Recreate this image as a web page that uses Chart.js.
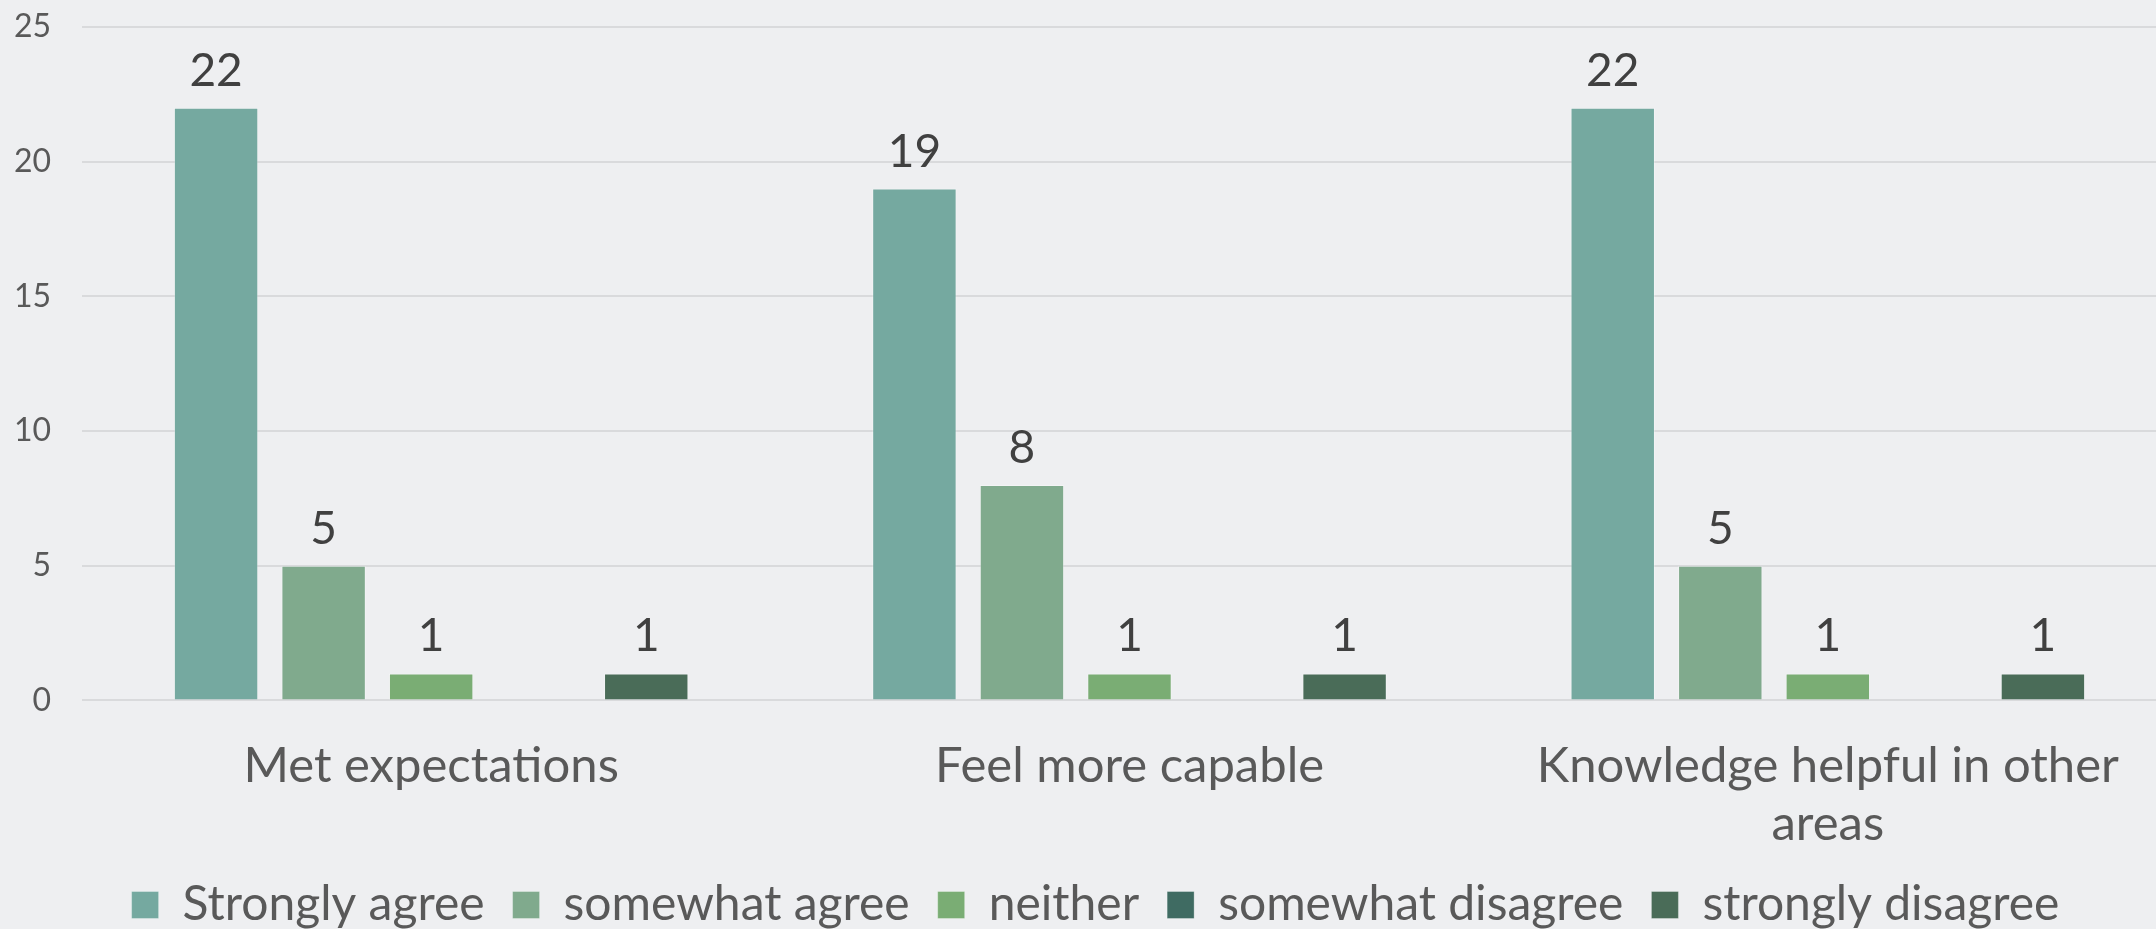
<!DOCTYPE html>
<html>
<head>
<meta charset="utf-8">
<script src="https://cdn.jsdelivr.net/npm/chart.js@4"></script>
<style>
  html, body { margin: 0; padding: 0; background: #eeeff1; overflow: hidden; }
  #wrap { width: 2220px; height: 929px; }
</style>
</head>
<body>
<div id="wrap"><canvas id="chart" width="2220" height="929"></canvas></div>
<script>
// Categories and series
const categories = ['Met expectations', 'Feel more capable', ['Knowledge helpful in other', 'areas']];
const stronglyAgree = [22, 19, 22];
const somewhatAgree = [5, 8, 5];
const neither = [1, 1, 1];
const somewhatDisagree = [null, null, null];
const stronglyDisagree = [1, 1, 1];
const yTicks = [0, 5, 10, 15, 20, 25];

const FONT = 'Lato, "Open Sans", sans-serif';

// Draw the value above each bar
const valueLabels = {
  id: 'valueLabels',
  afterDatasetsDraw(chart) {
    const ctx = chart.ctx;
    ctx.save();
    ctx.font = '46px ' + FONT;
    ctx.fillStyle = '#404040';
    ctx.textAlign = 'center';
    ctx.textBaseline = 'alphabetic';
    chart.data.datasets.forEach((ds, i) => {
      const meta = chart.getDatasetMeta(i);
      meta.data.forEach((bar, j) => {
        const v = ds.data[j];
        if (v === null || v === undefined) return;
        ctx.fillText(v, bar.x, bar.y - 22);
      });
    });
    ctx.restore();
  }
};

function series(label, data, color) {
  return {
    label: label,
    data: data,
    backgroundColor: color,
    borderColor: 'rgba(255,255,255,0.3)',
    borderWidth: 1,
    categoryPercentage: 0.77,
    barPercentage: 0.785
  };
}

new Chart(document.getElementById('chart'), {
  type: 'bar',
  data: {
    labels: categories,
    datasets: [
      series('Strongly agree', stronglyAgree, '#75a9a0'),
      series('somewhat agree', somewhatAgree, '#80aa8d'),
      series('neither', neither, '#7aad74'),
      series('somewhat disagree', somewhatDisagree, '#3f6b62'),
      series('strongly disagree', stronglyDisagree, '#4a6c58')
    ]
  },
  options: {
    responsive: false,
    animation: false,
    layout: { padding: { left: 14, right: 43, top: 27, bottom: -10 } },
    plugins: {
      legend: {
        position: 'bottom',
        labels: {
          font: { family: FONT, size: 48 },
          color: '#595959',
          boxWidth: 27,
          boxHeight: 27,
          padding: 28
        }
      },
      tooltip: { enabled: false }
    },
    scales: {
      x: {
        grid: { display: false },
        border: { display: false },
        afterFit: axis => { axis.height -= 29; },
        ticks: {
          font: { family: FONT, size: 49 },
          color: '#595959',
          padding: 28,
          maxRotation: 0
        }
      },
      y: {
        min: 0,
        max: 25,
        afterBuildTicks: axis => { axis.ticks = yTicks.map(v => ({ value: v })); },
        afterFit: axis => {
          axis.width = 68;
          axis.paddingTop = 0;
          axis.paddingBottom = 0;
        },
        grid: { color: '#d9dadc', lineWidth: 2, drawTicks: false },
        border: { display: false },
        ticks: {
          font: { family: FONT, size: 32 },
          color: '#595959',
          padding: 31
        }
      }
    }
  },
  plugins: [valueLabels]
});
</script>
</body>
</html>
